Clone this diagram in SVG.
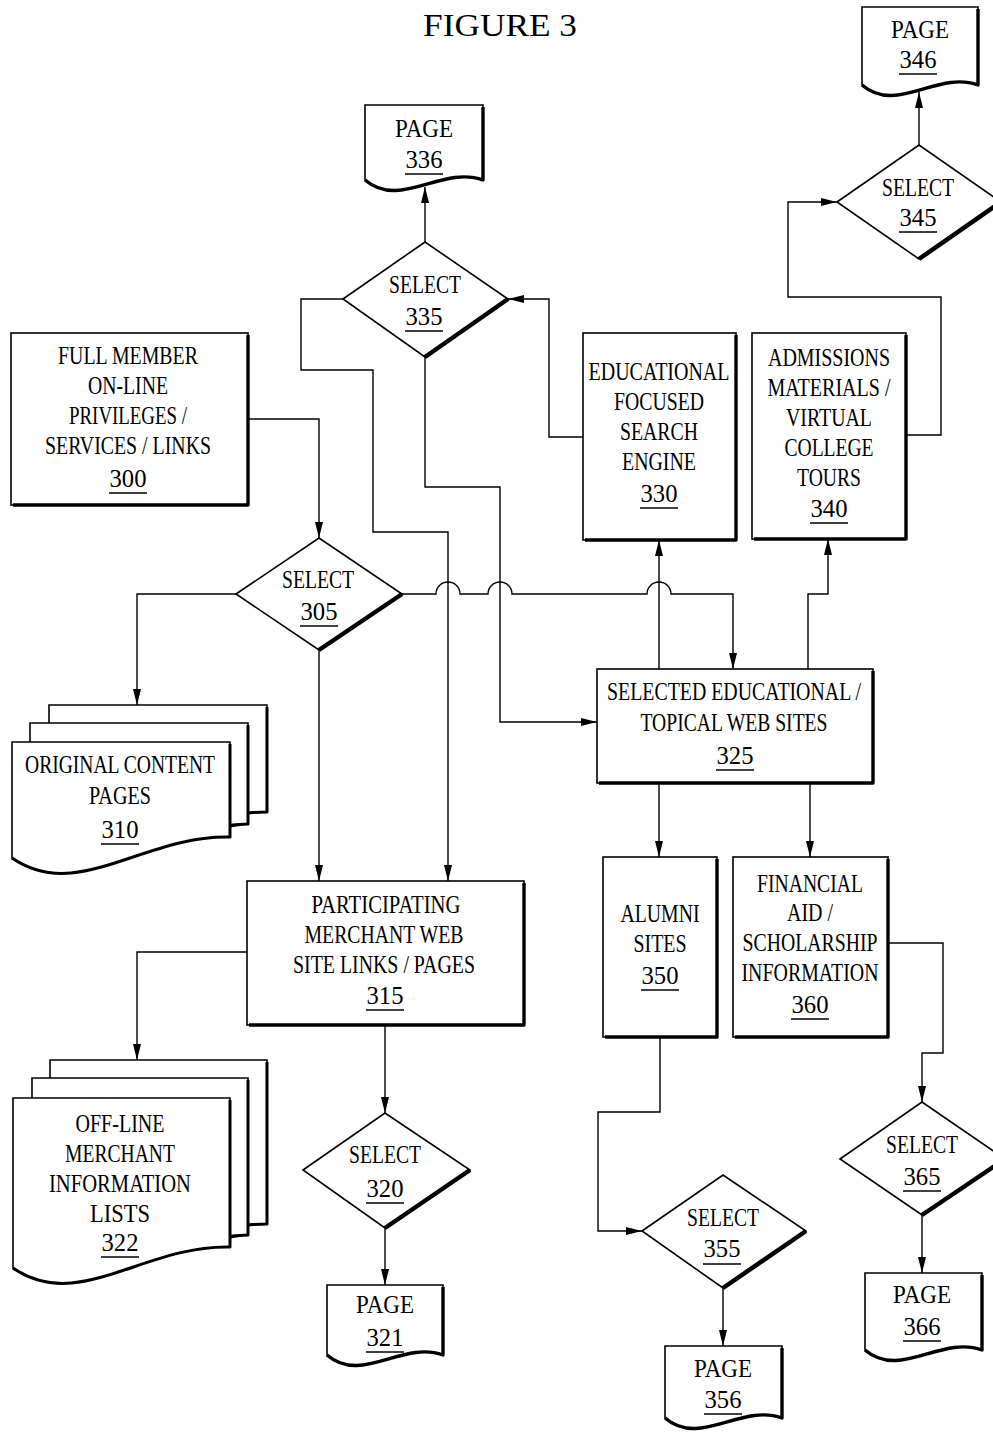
<svg xmlns="http://www.w3.org/2000/svg" width="993" height="1433" viewBox="0 0 993 1433">
<defs>
<marker id="ah" markerUnits="userSpaceOnUse" markerWidth="16" markerHeight="8" viewBox="0 0 16 8" refX="16" refY="4" orient="auto">
<path d="M0,0 L16,4 L0,8 Z" fill="#000"/>
</marker>
<style>
.n{fill:#fff;stroke:#000;stroke-width:1.6}
.sh{fill:none;stroke:#000;stroke-width:3.4;stroke-linejoin:round}
.c{fill:none;stroke:#000;stroke-width:1.4;marker-end:url(#ah)}
.t{font-family:"Liberation Serif","Times New Roman",serif;font-size:26px;text-anchor:middle;fill:#000}
.ul{stroke:#000;stroke-width:1.6}
.ttl{font-family:"Liberation Serif","Times New Roman",serif;font-size:31px;text-anchor:middle;fill:#000}
</style>
</defs>
<rect width="993" height="1433" fill="#fff"/>
<text class="ttl" x="500" y="36" textLength="154" lengthAdjust="spacingAndGlyphs">FIGURE 3</text>

<g id="connectors">
<path class="c" d="M248,419 H319 V538"/>
<path class="c" d="M236,594 H137 V705"/>
<path class="c" d="M319,650 V881"/>
<path class="c" d="M402,594 H436 A12,12 0 0 1 460,594 H488 A12,12 0 0 1 512,594 H647 A12,12 0 0 1 671,594 H733 V669"/>
<path class="c" d="M343,299 H301 V370 H373 V532 H448 V881"/>
<path class="c" d="M425,357 V487 H500 V722 H597"/>
<path class="c" d="M583,437 H549 V299 H508"/>
<path class="c" d="M425,242 V187"/>
<path class="c" d="M659,669 V540"/>
<path class="c" d="M808,669 V594 H828 V539"/>
<path class="c" d="M906,435 H941 V297 H788 V202 H837"/>
<path class="c" d="M919,145 V92"/>
<path class="c" d="M247,952 H137 V1060"/>
<path class="c" d="M385,1025 V1113"/>
<path class="c" d="M385,1228 V1285"/>
<path class="c" d="M659,783 V857"/>
<path class="c" d="M810,783 V857"/>
<path class="c" d="M660,1037 V1112 H598 V1231 H642"/>
<path class="c" d="M723,1288 V1346"/>
<path class="c" d="M888,943 H943 V1053 H922 V1102"/>
<path class="c" d="M922,1215 V1273"/>
</g>

<g id="n336">
<path class="n" d="M365,105 H483 V180 C441.7,165 400.4,210 365,180 Z"/>
<path class="sh" d="M483,107 V180 C441.7,165 400.4,210 365,180"/>
<text class="t" x="424" y="137" textLength="58" lengthAdjust="spacingAndGlyphs">PAGE</text>
<text class="t" x="424" y="168" textLength="37" lengthAdjust="spacingAndGlyphs">336</text>
<line class="ul" x1="405" y1="174" x2="443" y2="174"/>
</g>

<g id="n346">
<path class="n" d="M862,7 H978 V85 C937.4,70 896.8,115 862,85 Z"/>
<path class="sh" d="M978,9 V85 C937.4,70 896.8,115 862,85"/>
<text class="t" x="920" y="38" textLength="58" lengthAdjust="spacingAndGlyphs">PAGE</text>
<text class="t" x="918" y="68" textLength="37" lengthAdjust="spacingAndGlyphs">346</text>
<line class="ul" x1="899" y1="74" x2="937" y2="74"/>
</g>

<g id="n335">
<path class="n" d="M343,299 L425,242 L508,299 L425,357 Z"/>
<path class="sh" d="M508,299 L425,357" style="stroke-width:4.5"/>
<text class="t" x="425" y="293" textLength="72" lengthAdjust="spacingAndGlyphs">SELECT</text>
<text class="t" x="424" y="325" textLength="37" lengthAdjust="spacingAndGlyphs">335</text>
<line class="ul" x1="405" y1="331" x2="443" y2="331"/>
</g>

<g id="n345">
<path class="n" d="M837,202 L919,145 L1001,202 L919,259 Z"/>
<path class="sh" d="M1001,202 L919,259" style="stroke-width:4.5"/>
<text class="t" x="918" y="196" textLength="72" lengthAdjust="spacingAndGlyphs">SELECT</text>
<text class="t" x="918" y="226" textLength="37" lengthAdjust="spacingAndGlyphs">345</text>
<line class="ul" x1="899" y1="232" x2="937" y2="232"/>
</g>

<g id="n300">
<rect class="n" x="11" y="333" width="237" height="172"/>
<path class="sh" d="M248,335 V505 H13"/>
<text class="t" x="128" y="364" textLength="140" lengthAdjust="spacingAndGlyphs">FULL MEMBER</text>
<text class="t" x="128" y="394" textLength="80" lengthAdjust="spacingAndGlyphs">ON-LINE</text>
<text class="t" x="128" y="424" textLength="118" lengthAdjust="spacingAndGlyphs">PRIVILEGES /</text>
<text class="t" x="128" y="454" textLength="166" lengthAdjust="spacingAndGlyphs">SERVICES / LINKS</text>
<text class="t" x="128" y="487" textLength="37" lengthAdjust="spacingAndGlyphs">300</text>
<line class="ul" x1="109" y1="493" x2="147" y2="493"/>
</g>

<g id="n330">
<rect class="n" x="583" y="333" width="153" height="207"/>
<path class="sh" d="M736,335 V540 H585"/>
<text class="t" x="659" y="380" textLength="141" lengthAdjust="spacingAndGlyphs">EDUCATIONAL</text>
<text class="t" x="659" y="410" textLength="90" lengthAdjust="spacingAndGlyphs">FOCUSED</text>
<text class="t" x="659" y="440" textLength="78" lengthAdjust="spacingAndGlyphs">SEARCH</text>
<text class="t" x="659" y="470" textLength="74" lengthAdjust="spacingAndGlyphs">ENGINE</text>
<text class="t" x="659" y="502" textLength="37" lengthAdjust="spacingAndGlyphs">330</text>
<line class="ul" x1="640" y1="508" x2="678" y2="508"/>
</g>

<g id="n340">
<rect class="n" x="752" y="333" width="154" height="206"/>
<path class="sh" d="M906,335 V539 H754"/>
<text class="t" x="829" y="366" textLength="122" lengthAdjust="spacingAndGlyphs">ADMISSIONS</text>
<text class="t" x="829" y="396" textLength="123" lengthAdjust="spacingAndGlyphs">MATERIALS /</text>
<text class="t" x="829" y="426" textLength="86" lengthAdjust="spacingAndGlyphs">VIRTUAL</text>
<text class="t" x="829" y="456" textLength="89" lengthAdjust="spacingAndGlyphs">COLLEGE</text>
<text class="t" x="829" y="486" textLength="64" lengthAdjust="spacingAndGlyphs">TOURS</text>
<text class="t" x="829" y="517" textLength="37" lengthAdjust="spacingAndGlyphs">340</text>
<line class="ul" x1="810" y1="523" x2="848" y2="523"/>
</g>

<g id="n305">
<path class="n" d="M236,594 L319,538 L402,594 L319,650 Z"/>
<path class="sh" d="M402,594 L319,650" style="stroke-width:4.5"/>
<text class="t" x="318" y="588" textLength="72" lengthAdjust="spacingAndGlyphs">SELECT</text>
<text class="t" x="319" y="620" textLength="37" lengthAdjust="spacingAndGlyphs">305</text>
<line class="ul" x1="300" y1="626" x2="338" y2="626"/>
</g>

<g id="n310">
<path class="n" d="M49,705 H267 V812 C179.8,810 114.4,877 49,832 Z"/>
<path class="sh" d="M267,707 V812 C250,812 240,814 230,815" style="stroke-width:3"/>
<path class="n" d="M30,723 H248 V824 C160.8,822 95.4,890 30,845 Z"/>
<path class="sh" d="M248,725 V824 C240,824 235,825 230,826" style="stroke-width:3"/>
<path class="n" d="M12,742 H230 V837 C142.8,835 77.4,903 12,858 Z"/>
<path class="sh" d="M230,744 V837 C142.8,835 77.4,903 12,858" style="stroke-width:3"/>
<text class="t" x="120" y="773" textLength="190" lengthAdjust="spacingAndGlyphs">ORIGINAL CONTENT</text>
<text class="t" x="120" y="804" textLength="62" lengthAdjust="spacingAndGlyphs">PAGES</text>
<text class="t" x="120" y="838" textLength="37" lengthAdjust="spacingAndGlyphs">310</text>
<line class="ul" x1="101" y1="844" x2="139" y2="844"/>
</g>

<g id="n325">
<rect class="n" x="597" y="669" width="276" height="114"/>
<path class="sh" d="M873,671 V783 H599"/>
<text class="t" x="734" y="700" textLength="254" lengthAdjust="spacingAndGlyphs">SELECTED EDUCATIONAL /</text>
<text class="t" x="734" y="731" textLength="187" lengthAdjust="spacingAndGlyphs">TOPICAL WEB SITES</text>
<text class="t" x="735" y="764" textLength="37" lengthAdjust="spacingAndGlyphs">325</text>
<line class="ul" x1="716" y1="770" x2="754" y2="770"/>
</g>

<g id="n315">
<rect class="n" x="247" y="881" width="277" height="144"/>
<path class="sh" d="M524,883 V1025 H249"/>
<text class="t" x="386" y="913" textLength="149" lengthAdjust="spacingAndGlyphs">PARTICIPATING</text>
<text class="t" x="384" y="943" textLength="159" lengthAdjust="spacingAndGlyphs">MERCHANT WEB</text>
<text class="t" x="384" y="973" textLength="182" lengthAdjust="spacingAndGlyphs">SITE LINKS / PAGES</text>
<text class="t" x="385" y="1004" textLength="37" lengthAdjust="spacingAndGlyphs">315</text>
<line class="ul" x1="366" y1="1010" x2="404" y2="1010"/>
</g>

<g id="n350">
<rect class="n" x="603" y="857" width="114" height="180"/>
<path class="sh" d="M717,859 V1037 H605"/>
<text class="t" x="660" y="922" textLength="79" lengthAdjust="spacingAndGlyphs">ALUMNI</text>
<text class="t" x="660" y="952" textLength="53" lengthAdjust="spacingAndGlyphs">SITES</text>
<text class="t" x="660" y="984" textLength="37" lengthAdjust="spacingAndGlyphs">350</text>
<line class="ul" x1="641" y1="990" x2="679" y2="990"/>
</g>

<g id="n360">
<rect class="n" x="733" y="857" width="155" height="180"/>
<path class="sh" d="M888,859 V1037 H735"/>
<text class="t" x="810" y="892" textLength="106" lengthAdjust="spacingAndGlyphs">FINANCIAL</text>
<text class="t" x="810" y="921" textLength="46" lengthAdjust="spacingAndGlyphs">AID /</text>
<text class="t" x="810" y="951" textLength="135" lengthAdjust="spacingAndGlyphs">SCHOLARSHIP</text>
<text class="t" x="810" y="981" textLength="137" lengthAdjust="spacingAndGlyphs">INFORMATION</text>
<text class="t" x="810" y="1013" textLength="37" lengthAdjust="spacingAndGlyphs">360</text>
<line class="ul" x1="791" y1="1019" x2="829" y2="1019"/>
</g>

<g id="n322">
<path class="n" d="M50,1060 H267 V1224 C180.2,1222 115.1,1290 50,1245 Z"/>
<path class="sh" d="M267,1062 V1224 C250,1224 240,1226 230,1227" style="stroke-width:3"/>
<path class="n" d="M32,1078 H248 V1235 C161.6,1233 96.8,1301 32,1256 Z"/>
<path class="sh" d="M248,1080 V1235 C240,1235 235,1236 230,1237" style="stroke-width:3"/>
<path class="n" d="M13,1098 H230 V1247 C143.2,1245 78.1,1313 13,1268 Z"/>
<path class="sh" d="M230,1100 V1247 C143.2,1245 78.1,1313 13,1268" style="stroke-width:3"/>
<text class="t" x="120" y="1132" textLength="89" lengthAdjust="spacingAndGlyphs">OFF-LINE</text>
<text class="t" x="120" y="1162" textLength="110" lengthAdjust="spacingAndGlyphs">MERCHANT</text>
<text class="t" x="120" y="1192" textLength="142" lengthAdjust="spacingAndGlyphs">INFORMATION</text>
<text class="t" x="120" y="1222" textLength="60" lengthAdjust="spacingAndGlyphs">LISTS</text>
<text class="t" x="120" y="1251" textLength="37" lengthAdjust="spacingAndGlyphs">322</text>
<line class="ul" x1="101" y1="1257" x2="139" y2="1257"/>
</g>

<g id="n320">
<path class="n" d="M303,1170 L385,1113 L470,1170 L385,1228 Z"/>
<path class="sh" d="M470,1170 L385,1228" style="stroke-width:4.5"/>
<text class="t" x="385" y="1163" textLength="72" lengthAdjust="spacingAndGlyphs">SELECT</text>
<text class="t" x="385" y="1197" textLength="37" lengthAdjust="spacingAndGlyphs">320</text>
<line class="ul" x1="366" y1="1203" x2="404" y2="1203"/>
</g>

<g id="n321">
<path class="n" d="M327,1285 H443 V1355 C402.4,1340 361.8,1385 327,1355 Z"/>
<path class="sh" d="M443,1287 V1355 C402.4,1340 361.8,1385 327,1355"/>
<text class="t" x="385" y="1313" textLength="58" lengthAdjust="spacingAndGlyphs">PAGE</text>
<text class="t" x="385" y="1346" textLength="37" lengthAdjust="spacingAndGlyphs">321</text>
<line class="ul" x1="366" y1="1352" x2="404" y2="1352"/>
</g>

<g id="n355">
<path class="n" d="M642,1231 L723,1175 L806,1231 L723,1288 Z"/>
<path class="sh" d="M806,1231 L723,1288" style="stroke-width:4.5"/>
<text class="t" x="723" y="1226" textLength="72" lengthAdjust="spacingAndGlyphs">SELECT</text>
<text class="t" x="722" y="1257" textLength="37" lengthAdjust="spacingAndGlyphs">355</text>
<line class="ul" x1="703" y1="1264" x2="741" y2="1264"/>
</g>

<g id="n356">
<path class="n" d="M665,1346 H782 V1418 C741,1403 700.1,1448 665,1418 Z"/>
<path class="sh" d="M782,1348 V1418 C741,1403 700.1,1448 665,1418"/>
<text class="t" x="723" y="1377" textLength="58" lengthAdjust="spacingAndGlyphs">PAGE</text>
<text class="t" x="723" y="1408" textLength="37" lengthAdjust="spacingAndGlyphs">356</text>
<line class="ul" x1="704" y1="1414" x2="742" y2="1414"/>
</g>

<g id="n365">
<path class="n" d="M840,1159 L922,1102 L1005,1159 L922,1215 Z"/>
<path class="sh" d="M1005,1159 L922,1215" style="stroke-width:4.5"/>
<text class="t" x="922" y="1153" textLength="72" lengthAdjust="spacingAndGlyphs">SELECT</text>
<text class="t" x="922" y="1185" textLength="37" lengthAdjust="spacingAndGlyphs">365</text>
<line class="ul" x1="903" y1="1191" x2="941" y2="1191"/>
</g>

<g id="n366">
<path class="n" d="M865,1273 H982 V1350 C941,1335 900.1,1380 865,1350 Z"/>
<path class="sh" d="M982,1275 V1350 C941,1335 900.1,1380 865,1350"/>
<text class="t" x="922" y="1303" textLength="58" lengthAdjust="spacingAndGlyphs">PAGE</text>
<text class="t" x="922" y="1335" textLength="37" lengthAdjust="spacingAndGlyphs">366</text>
<line class="ul" x1="903" y1="1341" x2="941" y2="1341"/>
</g>
</svg>
